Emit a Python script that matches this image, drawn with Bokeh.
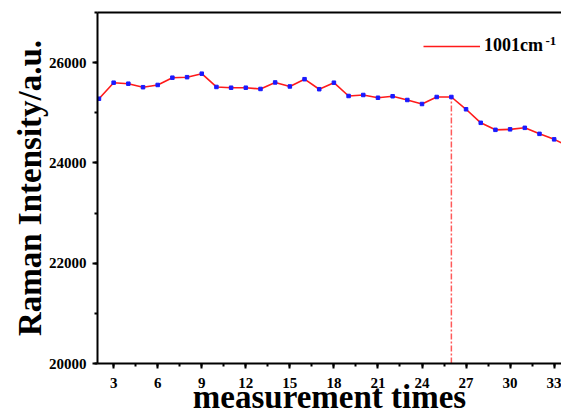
from bokeh.plotting import figure
from bokeh.models import (Range1d, SingleIntervalTicker, FixedTicker, LinearAxis,
                          Legend, LegendItem, Label)
from bokeh.embed import file_html
from bokeh.resources import INLINE

# ---- data ----
times = [2, 3, 4, 5, 6, 7, 8, 9, 10, 11, 12, 13, 14, 15, 16, 17, 18,
         19, 20, 21, 22, 23, 24, 25, 26, 27, 28, 29, 30, 31, 32, 33, 34]
intensity = [25280, 25600, 25580, 25510, 25555, 25700, 25710, 25780, 25515,
             25500, 25500, 25475, 25605, 25525, 25670, 25470, 25600, 25335,
             25355, 25300, 25330, 25255, 25175, 25315, 25315, 25070, 24800,
             24660, 24670, 24700, 24580, 24470, 24330]
event_time = 26
series_label = "1001cm"
series_sup = "-1"
x_title = "measurement times"
y_title = "Raman Intensity/a.u."

FONT = "Liberation Serif"

p = figure(width=561, height=418,
           x_range=Range1d(1.9, 33.5), y_range=Range1d(20000, 27000),
           output_backend="svg", toolbar_location=None,
           min_border_left=97, min_border_right=0,
           min_border_top=12, min_border_bottom=55)
p.outline_line_color = None
p.xgrid.visible = False
p.ygrid.visible = False
p.background_fill_color = "white"
p.border_fill_color = "white"

for ax, tk, stand, lstand in (
        (p.xaxis[0], SingleIntervalTicker(interval=3, num_minor_ticks=2), 9, -12),
        (p.yaxis[0], SingleIntervalTicker(interval=2000, num_minor_ticks=2), 6, -2)):
    ax.ticker = tk
    ax.axis_line_width = 2
    ax.axis_line_color = "black"
    ax.major_tick_line_width = 2
    ax.minor_tick_line_width = 2
    ax.major_tick_line_color = "black"
    ax.minor_tick_line_color = "black"
    ax.major_tick_out = 5
    ax.major_tick_in = 0
    ax.minor_tick_out = 3
    ax.minor_tick_in = 0
    ax.major_label_text_font = FONT
    ax.major_label_text_font_style = "bold"
    ax.major_label_text_font_size = "15px"
    ax.major_label_text_color = "black"
    ax.major_label_standoff = stand
    ax.axis_label_text_font = FONT
    ax.axis_label_text_font_style = "bold"
    ax.axis_label_text_font_size = "33px"
    ax.axis_label_text_color = "black"
    ax.axis_label_standoff = lstand

p.xaxis[0].axis_label = x_title
p.yaxis[0].axis_label = y_title

top = LinearAxis(ticker=FixedTicker(ticks=[]), axis_line_width=2,
                 axis_line_color="black", major_tick_line_color=None,
                 minor_tick_line_color=None, major_label_text_font_size="0px")
p.add_layout(top, "above")

# vertical marker at the event time
ev_y = intensity[times.index(event_time)]
p.segment(x0=[event_time], y0=[p.y_range.start], x1=[event_time], y1=[ev_y],
          line_color="#ff5a5a", line_width=1.5, line_dash="6 2 2 2")

line_r = p.line(times, intensity, line_color="#ff1a1a", line_width=1.6)
p.scatter(times, intensity, marker="square", size=3.5, color="#1a1aff")

legend = Legend(items=[LegendItem(label=series_label, renderers=[line_r])],
                location=(326, 307), glyph_width=57, glyph_height=20,
                label_standoff=4, padding=0, margin=0, spacing=0,
                border_line_color=None, background_fill_alpha=0,
                label_text_font=FONT, label_text_font_style="bold",
                label_text_font_size="18px", label_text_color="black")
p.add_layout(legend, "center")

p.add_layout(Label(x=448, y=323, x_units="screen", y_units="screen",
                   text=series_sup, text_font=FONT, text_font_style="bold",
                   text_font_size="13px", text_color="black",
                   text_baseline="alphabetic", text_align="left"))

open("out.html", "w").write(file_html(p, INLINE))
